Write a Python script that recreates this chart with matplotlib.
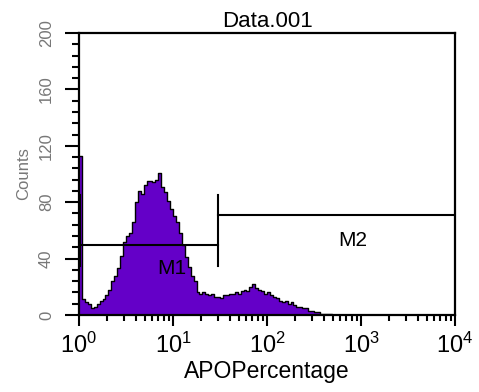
import numpy as np
import matplotlib
matplotlib.use("Agg")
import matplotlib.pyplot as plt
from matplotlib.ticker import FixedLocator, LogLocator, NullFormatter

plt.rcParams['font.family'] = ['Liberation Sans', 'DejaVu Sans']
plt.rcParams['mathtext.fontset'] = 'custom'
plt.rcParams['mathtext.rm'] = 'Liberation Sans'
plt.rcParams['mathtext.it'] = 'Liberation Sans'
plt.rcParams['mathtext.default'] = 'regular'

title = "Data.001"
xlabel = "APOPercentage"
ylabel = "Counts"
channels_per_decade = 32
counts = [113, 11, 9, 8, 5, 6, 8, 10, 11, 14, 18, 24, 28, 33, 42, 52,
          56, 58, 66, 80, 88, 86, 92, 95, 95, 94, 96, 101, 91, 87, 81, 75,
          70, 66, 58, 50, 41, 34, 28, 24, 16, 15, 16, 15, 14, 15, 13, 13,
          12, 14, 14, 15, 15, 16, 15, 17, 18, 17, 20, 22, 19, 18, 17, 15,
          16, 14, 13, 12, 10, 9, 10, 8, 9, 7, 6, 6, 5, 5, 3, 3,
          2, 2, 1, 1, 1, 0.5, 0.3, 0]
m1_range = [1, 30]
m1_level = 50
m2_range = [30, 10000]
m2_level = 71
marker_tick = [35, 85]
m1_label_pos = (9.8, 33)
m2_label_pos = (820, 53)
yticks = [0, 40, 80, 120, 160, 200]
fill_color = '#6400C8'

fig = plt.figure(figsize=(4.79, 3.92), dpi=100)
ax = fig.add_axes([79/479, 1-315/392, (455-79)/479, (315-33)/392])

n = len(counts)
edges = 10 ** (np.arange(n + 1) / channels_per_decade)
xs = np.repeat(edges, 2)[1:-1]
ys = np.repeat(counts, 2)
ax.fill_between(xs, ys, 0, color=fill_color, linewidth=0)
ax.plot(xs, ys, color='black', lw=1.0)

# markers
ax.plot(m1_range, [m1_level]*2, color='black', lw=1.5)
ax.plot([m1_range[0]*1.02]*2, marker_tick, color='black', lw=1.5)
ax.plot([m1_range[1]]*2, marker_tick, color='black', lw=1.5)
ax.plot(m2_range, [m2_level]*2, color='black', lw=1.5)
ax.text(*m1_label_pos, "M1", ha='center', va='center', fontsize=15)
ax.text(*m2_label_pos, "M2", ha='center', va='center', fontsize=15)

ax.set_xscale('log')
ax.set_xlim(1, 1e4)
ax.set_ylim(0, 200)
ax.xaxis.set_major_locator(LogLocator(base=10, numticks=10))
ax.xaxis.set_minor_locator(LogLocator(base=10, subs=np.arange(2, 10), numticks=20))
ax.xaxis.set_minor_formatter(NullFormatter())
ax.set_yticks(yticks)
ax.yaxis.set_minor_locator(FixedLocator(np.arange(0, 201, 8)))

for s in ax.spines.values():
    s.set_linewidth(1.6)
ax.tick_params(axis='x', which='major', length=8, width=1.5, labelsize=17, pad=5)
ax.tick_params(axis='x', which='minor', length=4.5, width=1.5)
ax.tick_params(axis='y', which='major', length=10, width=1.5, labelsize=12,
               labelcolor='#777777', pad=8)
ax.tick_params(axis='y', which='minor', length=5, width=1.5)
for lab in ax.get_yticklabels():
    lab.set_rotation(90)
    lab.set_va('center')

ax.set_title(title, fontsize=16, pad=4)
ax.set_xlabel(xlabel, fontsize=16.5, labelpad=1)
ax.set_ylabel(ylabel, fontsize=12, color='#777777', labelpad=6)

fig.savefig('out.png', dpi=100)
